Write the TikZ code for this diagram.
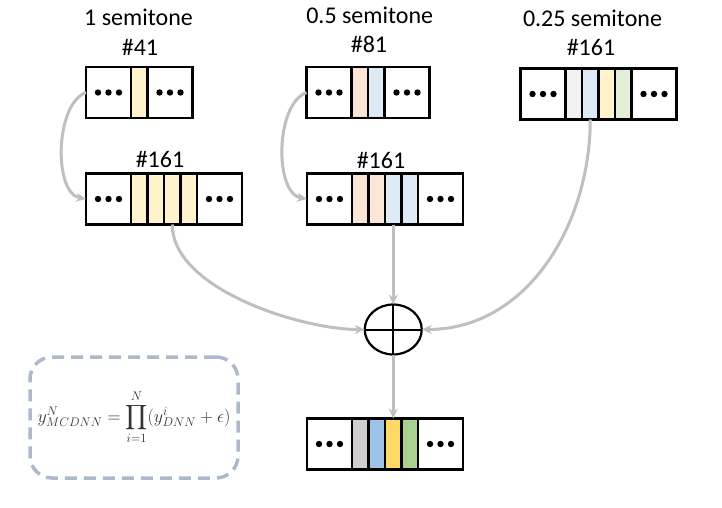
\RequirePackage{fix-cm}
\documentclass[tikz,border=0pt]{standalone}
\usepackage{amsmath}
\usepackage{fontspec}
\setmainfont{Carlito}
\usetikzlibrary{arrows.meta,positioning,shapes.geometric}
\definecolor{yel}{HTML}{FFF2CC}
\definecolor{peach}{HTML}{FBE5D6}
\definecolor{lblue}{HTML}{DEEBF7}
\definecolor{lgray}{HTML}{F2F2F2}
\definecolor{lgreen}{HTML}{E2F0D9}
\definecolor{fgray}{HTML}{D0CECE}
\definecolor{fblue}{HTML}{9DC3E6}
\definecolor{fyel}{HTML}{FFD966}
\definecolor{fgreen}{HTML}{A9D18E}
\definecolor{linkgray}{HTML}{BFBFBF}
\definecolor{boxblue}{HTML}{ADB9CA}
\definecolor{eqtext}{HTML}{333333}
\tikzset{
  cell/.style={draw=black, line width=2.2pt, inner sep=0pt, outer sep=0pt, minimum width=45pt, minimum height=51pt},
  dotcell/.style={cell, path picture={\foreach \dx in {-10.5,0,10.5} \fill ([xshift=\dx pt]path picture bounding box.center) circle (3.2pt);}},
  band/.style={cell, minimum width=16.5pt},
  lbl/.style={font=\fontsize{24}{28}\selectfont, inner sep=0pt, anchor=base},
  sumnode/.style={ellipse, draw=black, line width=2.2pt, minimum width=57pt, minimum height=50pt, inner sep=0pt, outer sep=0pt},
  eqbox/.style={draw=boxblue, line width=3.5pt, dash pattern=on 12pt off 7pt, rounded corners=22pt, text=eqtext, font=\fontsize{18}{22}\selectfont},
  arrow/.style={draw=linkgray, -{Stealth[length=10pt, width=9pt]}, line width=3pt},
}
\begin{document}
\begin{tikzpicture}[x=1pt, y=-1pt]
  \useasboundingbox (0,0) rectangle (722,508);

  \node[lbl] (t1) at (138.5,26) {1 semitone};
  \node[lbl] (n41) at (140,56) {\#41};
  \node[lbl] (n161a) at (160,167) {\#161};
  \node[lbl] (t2) at (369.7,24) {0.5 semitone};
  \node[lbl] (n81) at (369,53) {\#81};
  \node[lbl] (n161b) at (381,168) {\#161};
  \node[lbl] (t3) at (592.5,27) {0.25 semitone};
  \node[lbl] (n161c) at (591,56) {\#161};

  \node[dotcell] (a0) at (108.5,92.5) {};
  \node[band, fill=yel, right=0pt of a0] (a1) {};
  \node[dotcell, right=0pt of a1] (a2) {};

  \node[dotcell] (b0) at (108.5,199) {};
  \foreach \c [count=\i, remember=\i as \j (initially 0)] in {yel,yel,yel,yel}
    \node[band, fill=\c, right=0pt of b\j] (b\i) {};
  \node[dotcell, right=0pt of b4] (b5) {};

  \node[dotcell] (c0) at (329,92.5) {};
  \node[band, fill=peach, right=0pt of c0] (c1) {};
  \node[band, fill=lblue, right=0pt of c1] (c2) {};
  \node[dotcell, right=0pt of c2] (c3) {};

  \node[dotcell] (d0) at (329.5,199) {};
  \foreach \c [count=\i, remember=\i as \j (initially 0)] in {peach,peach,lblue,lblue}
    \node[band, fill=\c, right=0pt of d\j] (d\i) {};
  \node[dotcell, right=0pt of d4] (d5) {};

  \node[dotcell] (e0) at (543,94) {};
  \foreach \c [count=\i, remember=\i as \j (initially 0)] in {lgray,lblue,yel,lgreen}
    \node[band, fill=\c, right=0pt of e\j] (e\i) {};
  \node[dotcell, right=0pt of e4] (e5) {};

  \node[sumnode, below=80pt of d3] (sum) {};
  \draw[line width=2pt] (sum.north) -- (sum.south) (sum.west) -- (sum.east);

  \node[band, fill=fyel, below=64pt of sum] (f3) {};
  \node[band, fill=fblue, left=0pt of f3] (f2) {};
  \node[band, fill=fgray, left=0pt of f2] (f1) {};
  \node[dotcell, left=0pt of f1] (f0) {};
  \node[band, fill=fgreen, right=0pt of f3] (f4) {};
  \node[dotcell, right=0pt of f4] (f5) {};

  \node[eqbox, minimum width=208pt, minimum height=121pt] (eq) at (134,417.5)
    {$\displaystyle y^{N}_{MCDNN}=\prod_{i=1}^{N}(y^{i}_{DNN}+\epsilon)$};

  \draw[arrow] (a0.west) to[out=200, in=170, looseness=0.8] (b0.west);
  \draw[arrow] (c0.west) to[out=200, in=170, looseness=0.8] (d0.west);
  \draw[arrow] (b3.south) to[out=-90, in=180, looseness=0.75] (sum.west);
  \draw[arrow] (d3.south) -- (sum.north);
  \draw[arrow] (e2.south) to[out=-90, in=0] (sum.east);
  \draw[arrow] (sum.south) -- (f3.north);
\end{tikzpicture}
\end{document}
